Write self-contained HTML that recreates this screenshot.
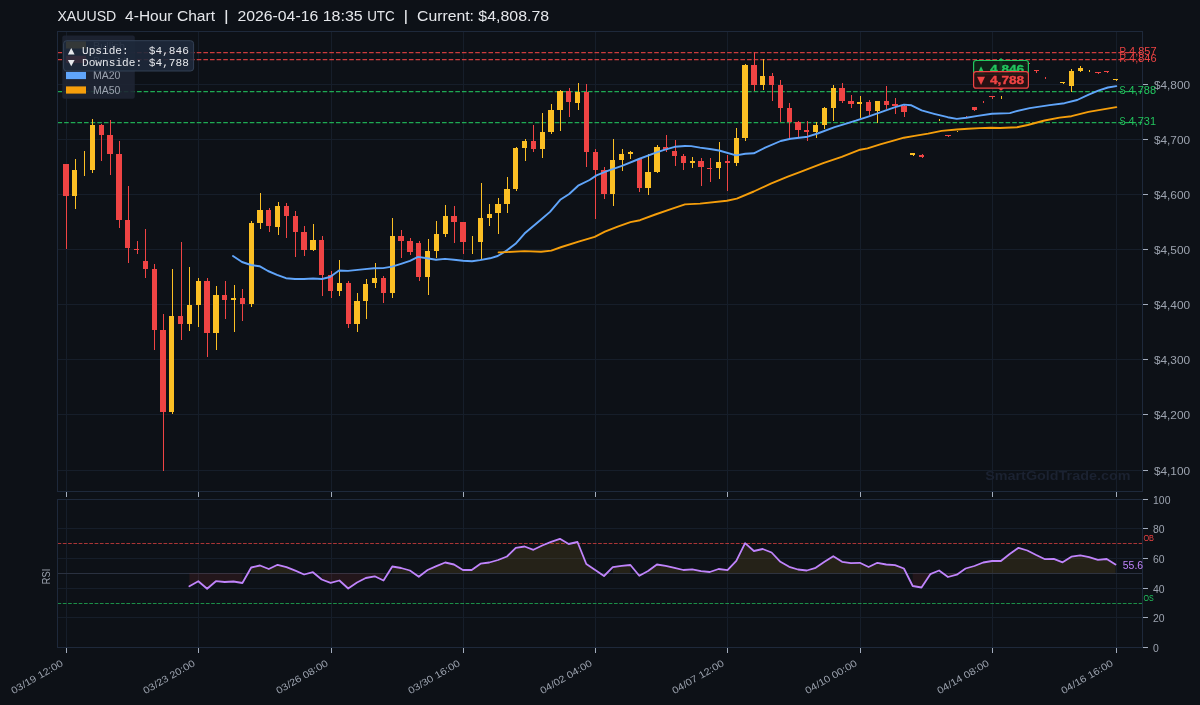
<!DOCTYPE html><html><head><meta charset="utf-8"><style>html,body{margin:0;padding:0;background:#0d1117;overflow:hidden}svg{display:block;will-change:transform}text{font-family:"Liberation Sans", sans-serif;white-space:pre;}.m{font-family:'Liberation Mono', monospace;}</style></head><body>
<svg width="1200" height="705" viewBox="0 0 1200 705">
<rect x="0" y="0" width="1200" height="705" fill="#0d1117"/>
<text x="57.40" y="21.00" style="font-size:14.73px" fill="#e5e7eb" textLength="58.91" lengthAdjust="spacingAndGlyphs" >XAUUSD</text>
<text x="125.14" y="21.00" style="font-size:14.73px" fill="#e5e7eb" textLength="47.34" lengthAdjust="spacingAndGlyphs" >4-Hour</text>
<text x="176.90" y="21.00" style="font-size:14.73px" fill="#e5e7eb" textLength="38.20" lengthAdjust="spacingAndGlyphs" >Chart</text>
<text x="223.94" y="21.00" style="font-size:14.73px" fill="#e5e7eb" textLength="4.68" lengthAdjust="spacingAndGlyphs" >|</text>
<text x="237.46" y="21.00" style="font-size:14.73px" fill="#e5e7eb" textLength="80.78" lengthAdjust="spacingAndGlyphs" >2026-04-16</text>
<text x="322.66" y="21.00" style="font-size:14.73px" fill="#e5e7eb" textLength="40.06" lengthAdjust="spacingAndGlyphs" >18:35</text>
<text x="367.13" y="21.00" style="font-size:14.73px" fill="#e5e7eb" textLength="27.56" lengthAdjust="spacingAndGlyphs" >UTC</text>
<text x="403.52" y="21.00" style="font-size:14.73px" fill="#e5e7eb" textLength="4.68" lengthAdjust="spacingAndGlyphs" >|</text>
<text x="417.04" y="21.00" style="font-size:14.73px" fill="#e5e7eb" textLength="56.89" lengthAdjust="spacingAndGlyphs" >Current:</text>
<text x="478.35" y="21.00" style="font-size:14.73px" fill="#e5e7eb" textLength="70.74" lengthAdjust="spacingAndGlyphs" >$4,808.78</text>
<g stroke="#161e2a" stroke-width="1">
<line x1="57.5" y1="84.5" x2="1142.5" y2="84.5"/>
<line x1="57.5" y1="139.5" x2="1142.5" y2="139.5"/>
<line x1="57.5" y1="194.5" x2="1142.5" y2="194.5"/>
<line x1="57.5" y1="249.5" x2="1142.5" y2="249.5"/>
<line x1="57.5" y1="304.5" x2="1142.5" y2="304.5"/>
<line x1="57.5" y1="359.5" x2="1142.5" y2="359.5"/>
<line x1="57.5" y1="414.5" x2="1142.5" y2="414.5"/>
<line x1="57.5" y1="470.5" x2="1142.5" y2="470.5"/>
<line x1="66.5" y1="31.5" x2="66.5" y2="491.5"/>
<line x1="66.5" y1="499.5" x2="66.5" y2="647.5"/>
<line x1="198.5" y1="31.5" x2="198.5" y2="491.5"/>
<line x1="198.5" y1="499.5" x2="198.5" y2="647.5"/>
<line x1="331.5" y1="31.5" x2="331.5" y2="491.5"/>
<line x1="331.5" y1="499.5" x2="331.5" y2="647.5"/>
<line x1="463.5" y1="31.5" x2="463.5" y2="491.5"/>
<line x1="463.5" y1="499.5" x2="463.5" y2="647.5"/>
<line x1="595.5" y1="31.5" x2="595.5" y2="491.5"/>
<line x1="595.5" y1="499.5" x2="595.5" y2="647.5"/>
<line x1="727.5" y1="31.5" x2="727.5" y2="491.5"/>
<line x1="727.5" y1="499.5" x2="727.5" y2="647.5"/>
<line x1="860.5" y1="31.5" x2="860.5" y2="491.5"/>
<line x1="860.5" y1="499.5" x2="860.5" y2="647.5"/>
<line x1="992.5" y1="31.5" x2="992.5" y2="491.5"/>
<line x1="992.5" y1="499.5" x2="992.5" y2="647.5"/>
<line x1="1116.5" y1="31.5" x2="1116.5" y2="491.5"/>
<line x1="1116.5" y1="499.5" x2="1116.5" y2="647.5"/>
<line x1="57.5" y1="617.5" x2="1142.5" y2="617.5"/>
<line x1="57.5" y1="588.5" x2="1142.5" y2="588.5"/>
<line x1="57.5" y1="558.5" x2="1142.5" y2="558.5"/>
<line x1="57.5" y1="528.5" x2="1142.5" y2="528.5"/>
</g>
<text x="985.20" y="479.70" style="font-weight:bold;font-size:13.04px" fill="#1b2231" textLength="145.27" lengthAdjust="spacingAndGlyphs" >SmartGoldTrade.com</text>
<line x1="57.5" y1="52.5" x2="1142.5" y2="52.5" stroke="#ef4444" stroke-opacity="0.85" stroke-width="1.25" stroke-dasharray="4.6 2.03"/>
<line x1="57.5" y1="59.5" x2="1142.5" y2="59.5" stroke="#ef4444" stroke-opacity="0.85" stroke-width="1.25" stroke-dasharray="4.6 2.03"/>
<line x1="57.5" y1="91.5" x2="1142.5" y2="91.5" stroke="#22c55e" stroke-opacity="0.85" stroke-width="1.25" stroke-dasharray="4.6 2.03"/>
<line x1="57.5" y1="122.5" x2="1142.5" y2="122.5" stroke="#22c55e" stroke-opacity="0.85" stroke-width="1.25" stroke-dasharray="4.6 2.03"/>
<g shape-rendering="crispEdges">
<rect x="66" y="163.6" width="1" height="85.5" fill="#ef4444"/>
<rect x="75" y="158.5" width="1" height="50.6" fill="#fbbf24"/>
<rect x="84" y="151.1" width="1" height="25.0" fill="#fbbf24"/>
<rect x="92" y="118.9" width="1" height="54.1" fill="#fbbf24"/>
<rect x="101" y="124.0" width="1" height="37.0" fill="#ef4444"/>
<rect x="110" y="119.7" width="1" height="55.4" fill="#ef4444"/>
<rect x="119" y="140.6" width="1" height="87.4" fill="#ef4444"/>
<rect x="128" y="185.8" width="1" height="77.4" fill="#ef4444"/>
<rect x="137" y="240.7" width="1" height="13.0" fill="#ef4444"/>
<rect x="145" y="228.7" width="1" height="49.3" fill="#ef4444"/>
<rect x="154" y="264.0" width="1" height="86.0" fill="#ef4444"/>
<rect x="163" y="313.9" width="1" height="157.0" fill="#ef4444"/>
<rect x="172" y="269.1" width="1" height="144.8" fill="#fbbf24"/>
<rect x="181" y="241.9" width="1" height="98.0" fill="#ef4444"/>
<rect x="189" y="266.9" width="1" height="63.9" fill="#fbbf24"/>
<rect x="198" y="278.2" width="1" height="48.8" fill="#fbbf24"/>
<rect x="207" y="278.0" width="1" height="78.7" fill="#ef4444"/>
<rect x="216" y="285.8" width="1" height="64.2" fill="#fbbf24"/>
<rect x="225" y="280.7" width="1" height="38.2" fill="#ef4444"/>
<rect x="234" y="284.8" width="1" height="47.3" fill="#fbbf24"/>
<rect x="242" y="289.0" width="1" height="31.9" fill="#ef4444"/>
<rect x="251" y="220.8" width="1" height="85.8" fill="#fbbf24"/>
<rect x="260" y="193.1" width="1" height="35.9" fill="#fbbf24"/>
<rect x="269" y="207.6" width="1" height="24.2" fill="#ef4444"/>
<rect x="278" y="201.9" width="1" height="33.0" fill="#fbbf24"/>
<rect x="286" y="203.0" width="1" height="34.8" fill="#ef4444"/>
<rect x="295" y="210.9" width="1" height="46.0" fill="#ef4444"/>
<rect x="304" y="225.7" width="1" height="30.3" fill="#ef4444"/>
<rect x="313" y="224.1" width="1" height="26.9" fill="#fbbf24"/>
<rect x="322" y="236.2" width="1" height="59.8" fill="#ef4444"/>
<rect x="331" y="270.9" width="1" height="27.0" fill="#ef4444"/>
<rect x="339" y="259.8" width="1" height="35.9" fill="#fbbf24"/>
<rect x="348" y="281.1" width="1" height="46.8" fill="#ef4444"/>
<rect x="357" y="292.8" width="1" height="39.1" fill="#fbbf24"/>
<rect x="366" y="278.9" width="1" height="39.8" fill="#fbbf24"/>
<rect x="375" y="263.0" width="1" height="25.3" fill="#fbbf24"/>
<rect x="383" y="276.2" width="1" height="26.6" fill="#ef4444"/>
<rect x="392" y="217.7" width="1" height="80.2" fill="#fbbf24"/>
<rect x="401" y="229.8" width="1" height="27.9" fill="#ef4444"/>
<rect x="410" y="237.9" width="1" height="17.0" fill="#ef4444"/>
<rect x="419" y="241.0" width="1" height="39.9" fill="#ef4444"/>
<rect x="428" y="238.8" width="1" height="56.2" fill="#fbbf24"/>
<rect x="436" y="221.1" width="1" height="36.7" fill="#fbbf24"/>
<rect x="445" y="204.8" width="1" height="32.3" fill="#fbbf24"/>
<rect x="454" y="206.0" width="1" height="36.7" fill="#ef4444"/>
<rect x="463" y="222.0" width="1" height="31.9" fill="#ef4444"/>
<rect x="472" y="235.8" width="1" height="18.1" fill="#fbbf24"/>
<rect x="481" y="183.0" width="1" height="75.7" fill="#fbbf24"/>
<rect x="489" y="203.9" width="1" height="22.2" fill="#fbbf24"/>
<rect x="498" y="198.0" width="1" height="35.9" fill="#fbbf24"/>
<rect x="507" y="176.8" width="1" height="36.1" fill="#fbbf24"/>
<rect x="516" y="146.9" width="1" height="44.0" fill="#fbbf24"/>
<rect x="525" y="139.2" width="1" height="21.6" fill="#fbbf24"/>
<rect x="533" y="125.1" width="1" height="26.9" fill="#ef4444"/>
<rect x="542" y="112.8" width="1" height="45.3" fill="#fbbf24"/>
<rect x="551" y="104.0" width="1" height="29.9" fill="#fbbf24"/>
<rect x="560" y="90.0" width="1" height="41.1" fill="#fbbf24"/>
<rect x="569" y="88.2" width="1" height="28.6" fill="#ef4444"/>
<rect x="578" y="83.1" width="1" height="26.6" fill="#fbbf24"/>
<rect x="586" y="84.2" width="1" height="82.7" fill="#ef4444"/>
<rect x="595" y="149.3" width="1" height="70.1" fill="#ef4444"/>
<rect x="604" y="167.2" width="1" height="31.5" fill="#ef4444"/>
<rect x="613" y="139.1" width="1" height="66.4" fill="#fbbf24"/>
<rect x="622" y="148.9" width="1" height="21.9" fill="#fbbf24"/>
<rect x="630" y="150.9" width="1" height="7.8" fill="#fbbf24"/>
<rect x="639" y="158.7" width="1" height="33.0" fill="#ef4444"/>
<rect x="648" y="153.8" width="1" height="41.1" fill="#fbbf24"/>
<rect x="657" y="144.9" width="1" height="28.0" fill="#fbbf24"/>
<rect x="666" y="135.1" width="1" height="16.6" fill="#ef4444"/>
<rect x="675" y="140.0" width="1" height="25.9" fill="#ef4444"/>
<rect x="683" y="153.8" width="1" height="16.1" fill="#ef4444"/>
<rect x="692" y="157.1" width="1" height="10.6" fill="#fbbf24"/>
<rect x="701" y="158.2" width="1" height="27.5" fill="#ef4444"/>
<rect x="710" y="158.2" width="1" height="23.6" fill="#ef4444"/>
<rect x="719" y="141.7" width="1" height="37.0" fill="#fbbf24"/>
<rect x="727" y="154.9" width="1" height="35.7" fill="#ef4444"/>
<rect x="736" y="128.1" width="1" height="37.4" fill="#fbbf24"/>
<rect x="745" y="64.3" width="1" height="76.3" fill="#fbbf24"/>
<rect x="754" y="52.3" width="1" height="38.9" fill="#ef4444"/>
<rect x="763" y="59.3" width="1" height="30.8" fill="#fbbf24"/>
<rect x="772" y="72.7" width="1" height="28.1" fill="#ef4444"/>
<rect x="780" y="80.1" width="1" height="42.0" fill="#ef4444"/>
<rect x="789" y="103.2" width="1" height="34.7" fill="#ef4444"/>
<rect x="798" y="121.2" width="1" height="15.6" fill="#ef4444"/>
<rect x="807" y="120.9" width="1" height="19.9" fill="#ef4444"/>
<rect x="816" y="122.3" width="1" height="15.6" fill="#fbbf24"/>
<rect x="824" y="106.7" width="1" height="22.0" fill="#fbbf24"/>
<rect x="833" y="84.8" width="1" height="36.1" fill="#fbbf24"/>
<rect x="842" y="82.9" width="1" height="20.0" fill="#ef4444"/>
<rect x="851" y="95.1" width="1" height="12.8" fill="#ef4444"/>
<rect x="860" y="95.9" width="1" height="22.2" fill="#fbbf24"/>
<rect x="869" y="99.9" width="1" height="15.5" fill="#ef4444"/>
<rect x="877" y="101.0" width="1" height="21.8" fill="#fbbf24"/>
<rect x="886" y="86.0" width="1" height="23.4" fill="#ef4444"/>
<rect x="895" y="97.9" width="1" height="16.2" fill="#ef4444"/>
<rect x="904" y="104.9" width="1" height="12.1" fill="#ef4444"/>
<rect x="913" y="153.3" width="1" height="2.5" fill="#fbbf24"/>
<rect x="922" y="154.2" width="1" height="3.3" fill="#ef4444"/>
<rect x="939" y="118.9" width="1" height="2.0" fill="#fbbf24"/>
<rect x="948" y="135.2" width="1" height="1.6" fill="#ef4444"/>
<rect x="957" y="130.9" width="1" height="1.0" fill="#fbbf24"/>
<rect x="966" y="115.9" width="1" height="1.2" fill="#ef4444"/>
<rect x="974" y="107.1" width="1" height="4.0" fill="#ef4444"/>
<rect x="983" y="101.0" width="1" height="2.0" fill="#ef4444"/>
<rect x="992" y="96.1" width="1" height="3.0" fill="#ef4444"/>
<rect x="1001" y="95.9" width="1" height="3.2" fill="#fbbf24"/>
<rect x="1027" y="62.8" width="1" height="1.7" fill="#ef4444"/>
<rect x="1036" y="69.9" width="1" height="3.0" fill="#ef4444"/>
<rect x="1045" y="77.0" width="1" height="2.0" fill="#ef4444"/>
<rect x="1063" y="82.1" width="1" height="1.9" fill="#fbbf24"/>
<rect x="1071" y="68.9" width="1" height="22.8" fill="#fbbf24"/>
<rect x="1080" y="65.8" width="1" height="6.1" fill="#fbbf24"/>
<rect x="1089" y="69.8" width="1" height="2.3" fill="#fbbf24"/>
<rect x="1098" y="71.9" width="1" height="2.1" fill="#ef4444"/>
<rect x="1107" y="71.0" width="1" height="2.2" fill="#ef4444"/>
<rect x="1116" y="78.9" width="1" height="2.1" fill="#fbbf24"/>
</g><g shape-rendering="crispEdges">
<rect x="63" y="164" width="6" height="32" fill="#ef4444"/>
<rect x="72" y="170" width="5" height="26" fill="#fbbf24"/>
<rect x="90" y="125" width="5" height="45" fill="#fbbf24"/>
<rect x="99" y="125" width="5" height="10" fill="#ef4444"/>
<rect x="107" y="135" width="6" height="19" fill="#ef4444"/>
<rect x="116" y="154" width="6" height="66" fill="#ef4444"/>
<rect x="125" y="220" width="5" height="28" fill="#ef4444"/>
<rect x="134" y="249" width="5" height="1" fill="#ef4444"/>
<rect x="143" y="261" width="5" height="8" fill="#ef4444"/>
<rect x="152" y="269" width="5" height="61" fill="#ef4444"/>
<rect x="160" y="330" width="6" height="82" fill="#ef4444"/>
<rect x="169" y="316" width="5" height="96" fill="#fbbf24"/>
<rect x="178" y="316" width="5" height="8" fill="#ef4444"/>
<rect x="187" y="305" width="5" height="19" fill="#fbbf24"/>
<rect x="196" y="281" width="5" height="24" fill="#fbbf24"/>
<rect x="204" y="281" width="6" height="52" fill="#ef4444"/>
<rect x="213" y="295" width="6" height="38" fill="#fbbf24"/>
<rect x="222" y="295" width="5" height="5" fill="#ef4444"/>
<rect x="231" y="298" width="5" height="2" fill="#fbbf24"/>
<rect x="240" y="298" width="5" height="6" fill="#ef4444"/>
<rect x="249" y="223" width="5" height="81" fill="#fbbf24"/>
<rect x="257" y="210" width="6" height="13" fill="#fbbf24"/>
<rect x="266" y="210" width="5" height="16" fill="#ef4444"/>
<rect x="275" y="206" width="5" height="21" fill="#fbbf24"/>
<rect x="284" y="206" width="5" height="10" fill="#ef4444"/>
<rect x="293" y="216" width="5" height="16" fill="#ef4444"/>
<rect x="301" y="232" width="6" height="18" fill="#ef4444"/>
<rect x="310" y="240" width="6" height="10" fill="#fbbf24"/>
<rect x="319" y="240" width="5" height="35" fill="#ef4444"/>
<rect x="328" y="275" width="5" height="16" fill="#ef4444"/>
<rect x="337" y="283" width="5" height="8" fill="#fbbf24"/>
<rect x="346" y="283" width="5" height="41" fill="#ef4444"/>
<rect x="354" y="301" width="6" height="23" fill="#fbbf24"/>
<rect x="363" y="284" width="5" height="17" fill="#fbbf24"/>
<rect x="372" y="278" width="5" height="5" fill="#fbbf24"/>
<rect x="381" y="278" width="5" height="15" fill="#ef4444"/>
<rect x="390" y="236" width="5" height="57" fill="#fbbf24"/>
<rect x="398" y="236" width="6" height="5" fill="#ef4444"/>
<rect x="407" y="241" width="6" height="11" fill="#ef4444"/>
<rect x="416" y="243" width="5" height="34" fill="#ef4444"/>
<rect x="425" y="251" width="5" height="26" fill="#fbbf24"/>
<rect x="434" y="234" width="5" height="17" fill="#fbbf24"/>
<rect x="443" y="216" width="5" height="18" fill="#fbbf24"/>
<rect x="451" y="216" width="6" height="6" fill="#ef4444"/>
<rect x="460" y="222" width="6" height="20" fill="#ef4444"/>
<rect x="478" y="218" width="5" height="24" fill="#fbbf24"/>
<rect x="487" y="214" width="5" height="4" fill="#fbbf24"/>
<rect x="495" y="204" width="6" height="9" fill="#fbbf24"/>
<rect x="504" y="189" width="6" height="15" fill="#fbbf24"/>
<rect x="513" y="148" width="5" height="41" fill="#fbbf24"/>
<rect x="522" y="141" width="5" height="7" fill="#fbbf24"/>
<rect x="531" y="141" width="5" height="8" fill="#ef4444"/>
<rect x="540" y="132" width="5" height="17" fill="#fbbf24"/>
<rect x="548" y="110" width="6" height="22" fill="#fbbf24"/>
<rect x="557" y="91" width="6" height="19" fill="#fbbf24"/>
<rect x="566" y="91" width="5" height="11" fill="#ef4444"/>
<rect x="575" y="92" width="5" height="11" fill="#fbbf24"/>
<rect x="584" y="92" width="5" height="60" fill="#ef4444"/>
<rect x="593" y="152" width="5" height="18" fill="#ef4444"/>
<rect x="601" y="170" width="6" height="24" fill="#ef4444"/>
<rect x="610" y="160" width="5" height="34" fill="#fbbf24"/>
<rect x="619" y="154" width="5" height="6" fill="#fbbf24"/>
<rect x="628" y="152" width="5" height="2" fill="#fbbf24"/>
<rect x="637" y="159" width="5" height="29" fill="#ef4444"/>
<rect x="645" y="172" width="6" height="16" fill="#fbbf24"/>
<rect x="654" y="147" width="6" height="25" fill="#fbbf24"/>
<rect x="663" y="147" width="5" height="3" fill="#ef4444"/>
<rect x="672" y="151" width="5" height="5" fill="#ef4444"/>
<rect x="681" y="156" width="5" height="7" fill="#ef4444"/>
<rect x="690" y="161" width="5" height="2" fill="#fbbf24"/>
<rect x="698" y="161" width="6" height="6" fill="#ef4444"/>
<rect x="707" y="168" width="5" height="1" fill="#ef4444"/>
<rect x="716" y="162" width="5" height="6" fill="#fbbf24"/>
<rect x="725" y="161" width="5" height="2" fill="#ef4444"/>
<rect x="734" y="138" width="5" height="25" fill="#fbbf24"/>
<rect x="742" y="65" width="6" height="73" fill="#fbbf24"/>
<rect x="751" y="65" width="6" height="20" fill="#ef4444"/>
<rect x="760" y="76" width="5" height="9" fill="#fbbf24"/>
<rect x="769" y="76" width="5" height="9" fill="#ef4444"/>
<rect x="778" y="85" width="5" height="23" fill="#ef4444"/>
<rect x="787" y="108" width="5" height="14" fill="#ef4444"/>
<rect x="795" y="122" width="6" height="8" fill="#ef4444"/>
<rect x="804" y="130" width="5" height="2" fill="#ef4444"/>
<rect x="813" y="125" width="5" height="7" fill="#fbbf24"/>
<rect x="822" y="108" width="5" height="17" fill="#fbbf24"/>
<rect x="831" y="88" width="5" height="20" fill="#fbbf24"/>
<rect x="839" y="88" width="6" height="13" fill="#ef4444"/>
<rect x="848" y="101" width="6" height="3" fill="#ef4444"/>
<rect x="857" y="102" width="5" height="2" fill="#fbbf24"/>
<rect x="866" y="102" width="5" height="9" fill="#ef4444"/>
<rect x="875" y="101" width="5" height="10" fill="#fbbf24"/>
<rect x="884" y="101" width="5" height="4" fill="#ef4444"/>
<rect x="892" y="104" width="6" height="2" fill="#ef4444"/>
<rect x="901" y="106" width="6" height="6" fill="#ef4444"/>
<rect x="910" y="153" width="5" height="2" fill="#fbbf24"/>
<rect x="919" y="155" width="5" height="2" fill="#ef4444"/>
<rect x="945" y="135" width="6" height="1" fill="#ef4444"/>
<rect x="972" y="107" width="5" height="3" fill="#ef4444"/>
<rect x="989" y="96" width="6" height="1" fill="#ef4444"/>
<rect x="1025" y="63" width="5" height="1" fill="#ef4444"/>
<rect x="1034" y="70" width="5" height="1" fill="#ef4444"/>
<rect x="1060" y="82" width="5" height="1" fill="#fbbf24"/>
<rect x="1069" y="71" width="5" height="15" fill="#fbbf24"/>
<rect x="1078" y="68" width="5" height="3" fill="#fbbf24"/>
<rect x="1095" y="72" width="6" height="1" fill="#ef4444"/>
<rect x="1104" y="71" width="5" height="1" fill="#ef4444"/>
<rect x="1113" y="79" width="5" height="1" fill="#fbbf24"/>
</g>
<polyline points="233.0,256.0 242.0,262.0 251.0,265.0 259.5,266.2 268.0,271.0 277.0,274.8 286.0,278.2 295.0,279.0 304.0,279.0 313.0,278.5 322.0,279.0 330.0,277.0 339.0,270.5 348.0,270.9 365.0,269.1 374.0,268.3 383.0,268.1 392.0,266.6 401.0,263.8 410.0,260.9 418.0,256.9 427.0,258.3 436.0,259.8 445.0,258.9 454.0,259.8 463.0,260.8 472.0,261.3 480.0,260.1 490.0,258.3 497.7,256.0 506.6,250.6 515.5,243.8 524.5,233.6 541.1,219.6 550.0,211.9 560.2,199.8 569.2,194.0 578.1,185.7 589.6,180.0 596.5,175.4 606.3,171.3 622.6,165.6 638.9,159.0 655.3,152.8 663.4,150.1 674.8,146.8 685.0,146.0 691.2,146.1 700.0,147.6 709.9,149.0 719.1,150.5 736.1,155.4 745.3,153.7 753.8,153.3 765.2,147.6 780.7,141.0 790.7,138.8 807.7,136.7 817.6,133.5 834.6,127.1 845.4,123.8 855.8,120.7 867.5,116.8 881.0,112.1 894.4,107.3 903.9,104.6 911.4,105.3 921.6,110.4 934.1,113.8 947.7,117.2 956.8,118.9 966.4,117.8 977.7,115.9 991.9,113.7 1009.9,113.1 1014.8,111.6 1029.7,108.1 1049.6,105.1 1064.5,103.2 1077.2,100.0 1088.7,94.6 1098.3,90.7 1107.9,87.5 1116.3,86.1" fill="none" stroke="#60a5fa" stroke-width="1.9" stroke-linejoin="round" stroke-linecap="round"/>
<polyline points="498.6,252.4 506.6,252.1 524.5,251.1 541.1,251.7 551.3,250.6 561.5,247.0 579.4,241.3 594.7,236.8 604.9,231.7 617.7,226.6 630.4,222.1 640.0,220.2 655.3,214.5 671.6,208.8 685.0,204.4 700.0,203.6 726.9,200.7 736.8,198.6 753.8,191.5 770.8,183.7 787.8,176.7 799.2,172.4 823.2,163.2 841.7,156.8 860.1,149.7 867.5,148.4 881.0,144.1 894.4,140.4 903.9,137.7 914.6,135.9 928.1,133.6 941.6,130.9 956.8,129.5 968.1,128.8 979.5,128.1 990.8,127.7 1000.0,128.0 1017.0,127.2 1027.7,125.0 1044.6,120.5 1059.5,117.6 1071.5,116.2 1088.5,111.9 1116.3,107.1" fill="none" stroke="#f59e0b" stroke-width="1.9" stroke-linejoin="round" stroke-linecap="round"/>
<rect x="57.5" y="31.5" width="1085.0" height="460.0" fill="none" stroke="#1e293b" stroke-width="1"/>
<text x="1119.40" y="55.10" style="font-size:10.18px" fill="#ef4444" textLength="6.67" lengthAdjust="spacingAndGlyphs" >R</text>
<text x="1129.12" y="55.10" style="font-size:10.18px" fill="#ef4444" textLength="27.48" lengthAdjust="spacingAndGlyphs" >4,857</text>
<text x="1119.40" y="62.10" style="font-size:10.18px" fill="#ef4444" textLength="6.67" lengthAdjust="spacingAndGlyphs" >R</text>
<text x="1129.12" y="62.10" style="font-size:10.18px" fill="#ef4444" textLength="27.48" lengthAdjust="spacingAndGlyphs" >4,846</text>
<text x="1119.40" y="93.80" style="font-size:10.18px" fill="#22c55e" textLength="6.09" lengthAdjust="spacingAndGlyphs" >S</text>
<text x="1128.55" y="93.80" style="font-size:10.18px" fill="#22c55e" textLength="27.48" lengthAdjust="spacingAndGlyphs" >4,788</text>
<text x="1119.40" y="124.80" style="font-size:10.18px" fill="#22c55e" textLength="6.09" lengthAdjust="spacingAndGlyphs" >S</text>
<text x="1128.55" y="124.80" style="font-size:10.18px" fill="#22c55e" textLength="27.48" lengthAdjust="spacingAndGlyphs" >4,731</text>
<g fill="#9ca3af" font-size="10.4">
<line x1="1143.0" y1="84.5" x2="1148.0" y2="84.5" stroke="#a3adbd" stroke-width="1"/>
<text x="1153.9" y="88.9" textLength="36.2" lengthAdjust="spacingAndGlyphs">$4,800</text>
<line x1="1143.0" y1="139.5" x2="1148.0" y2="139.5" stroke="#a3adbd" stroke-width="1"/>
<text x="1153.9" y="143.9" textLength="36.2" lengthAdjust="spacingAndGlyphs">$4,700</text>
<line x1="1143.0" y1="194.5" x2="1148.0" y2="194.5" stroke="#a3adbd" stroke-width="1"/>
<text x="1153.9" y="198.9" textLength="36.2" lengthAdjust="spacingAndGlyphs">$4,600</text>
<line x1="1143.0" y1="249.5" x2="1148.0" y2="249.5" stroke="#a3adbd" stroke-width="1"/>
<text x="1153.9" y="253.9" textLength="36.2" lengthAdjust="spacingAndGlyphs">$4,500</text>
<line x1="1143.0" y1="304.5" x2="1148.0" y2="304.5" stroke="#a3adbd" stroke-width="1"/>
<text x="1153.9" y="308.9" textLength="36.2" lengthAdjust="spacingAndGlyphs">$4,400</text>
<line x1="1143.0" y1="359.5" x2="1148.0" y2="359.5" stroke="#a3adbd" stroke-width="1"/>
<text x="1153.9" y="363.9" textLength="36.2" lengthAdjust="spacingAndGlyphs">$4,300</text>
<line x1="1143.0" y1="414.5" x2="1148.0" y2="414.5" stroke="#a3adbd" stroke-width="1"/>
<text x="1153.9" y="418.9" textLength="36.2" lengthAdjust="spacingAndGlyphs">$4,200</text>
<line x1="1143.0" y1="470.5" x2="1148.0" y2="470.5" stroke="#a3adbd" stroke-width="1"/>
<text x="1153.9" y="474.9" textLength="36.2" lengthAdjust="spacingAndGlyphs">$4,100</text>
</g>
<line x1="66.5" y1="492.0" x2="66.5" y2="497.0" stroke="#a3adbd" stroke-width="1"/>
<line x1="66.5" y1="648.0" x2="66.5" y2="653.0" stroke="#a3adbd" stroke-width="1"/>
<line x1="198.5" y1="492.0" x2="198.5" y2="497.0" stroke="#a3adbd" stroke-width="1"/>
<line x1="198.5" y1="648.0" x2="198.5" y2="653.0" stroke="#a3adbd" stroke-width="1"/>
<line x1="331.5" y1="492.0" x2="331.5" y2="497.0" stroke="#a3adbd" stroke-width="1"/>
<line x1="331.5" y1="648.0" x2="331.5" y2="653.0" stroke="#a3adbd" stroke-width="1"/>
<line x1="463.5" y1="492.0" x2="463.5" y2="497.0" stroke="#a3adbd" stroke-width="1"/>
<line x1="463.5" y1="648.0" x2="463.5" y2="653.0" stroke="#a3adbd" stroke-width="1"/>
<line x1="595.5" y1="492.0" x2="595.5" y2="497.0" stroke="#a3adbd" stroke-width="1"/>
<line x1="595.5" y1="648.0" x2="595.5" y2="653.0" stroke="#a3adbd" stroke-width="1"/>
<line x1="727.5" y1="492.0" x2="727.5" y2="497.0" stroke="#a3adbd" stroke-width="1"/>
<line x1="727.5" y1="648.0" x2="727.5" y2="653.0" stroke="#a3adbd" stroke-width="1"/>
<line x1="860.5" y1="492.0" x2="860.5" y2="497.0" stroke="#a3adbd" stroke-width="1"/>
<line x1="860.5" y1="648.0" x2="860.5" y2="653.0" stroke="#a3adbd" stroke-width="1"/>
<line x1="992.5" y1="492.0" x2="992.5" y2="497.0" stroke="#a3adbd" stroke-width="1"/>
<line x1="992.5" y1="648.0" x2="992.5" y2="653.0" stroke="#a3adbd" stroke-width="1"/>
<line x1="1116.5" y1="492.0" x2="1116.5" y2="497.0" stroke="#a3adbd" stroke-width="1"/>
<line x1="1116.5" y1="648.0" x2="1116.5" y2="653.0" stroke="#a3adbd" stroke-width="1"/>
<rect x="62.3" y="35.6" width="72.5" height="63.2" rx="2" fill="#1e2533" fill-opacity="0.9"/>
<rect x="66" y="41.3" width="20" height="7.2" fill="#fbbf24"/>
<rect x="66" y="55.8" width="20" height="7.2" fill="#ef4444"/>
<rect x="66" y="71.9" width="20" height="7.2" fill="#60a5fa"/>
<rect x="66" y="86.4" width="20" height="7.2" fill="#f59e0b"/>
<text x="93.00" y="50.00" style="font-size:10.30px" fill="#9ca3af" textLength="32.15" lengthAdjust="spacingAndGlyphs" >Bullish</text>
<text x="93.00" y="64.50" style="font-size:10.30px" fill="#9ca3af" textLength="36.53" lengthAdjust="spacingAndGlyphs" >Bearish</text>
<text x="93.00" y="79.00" style="font-size:10.30px" fill="#9ca3af" textLength="27.40" lengthAdjust="spacingAndGlyphs" >MA20</text>
<text x="93.00" y="93.60" style="font-size:10.30px" fill="#9ca3af" textLength="27.40" lengthAdjust="spacingAndGlyphs" >MA50</text>
<rect x="63.6" y="40.7" width="130" height="30.3" rx="3" fill="#1e293b" fill-opacity="0.9" stroke="#334155" stroke-width="1"/>
<text x="81.97" y="54.00" style="font-family:'Liberation Mono',monospace;font-size:11.77px" fill="#e5e7eb" textLength="46.78" lengthAdjust="spacingAndGlyphs" >Upside:</text>
<text x="148.79" y="54.00" style="font-family:'Liberation Mono',monospace;font-size:11.77px" fill="#e5e7eb" textLength="40.10" lengthAdjust="spacingAndGlyphs" >$4,846</text>
<text x="81.97" y="66.00" style="font-family:'Liberation Mono',monospace;font-size:11.77px" fill="#e5e7eb" textLength="60.14" lengthAdjust="spacingAndGlyphs" >Downside:</text>
<text x="148.79" y="66.00" style="font-family:'Liberation Mono',monospace;font-size:11.77px" fill="#e5e7eb" textLength="40.10" lengthAdjust="spacingAndGlyphs" >$4,788</text>
<path d="M71.25 48 L74.6 54.6 L67.9 54.6 Z" fill="#e5e7eb"/>
<path d="M67.9 60 L74.6 60 L71.25 66.3 Z" fill="#e5e7eb"/>
<path d="M1001 58 L998 61 L1004 61 Z" fill="#22c55e"/>
<rect x="973.6" y="60.5" width="54.8" height="14" rx="2.5" fill="#0f2418" fill-opacity="0.9" stroke="#22c55e" stroke-width="1.2"/><line x1="1001" y1="61" x2="1001" y2="72" stroke="#22c55e" stroke-opacity="0.12" stroke-width="3"/>
<path d="M977.1 74.5 L985 74.5 L981.05 66.2 Z" fill="#22c55e"/>
<text x="990" y="73.4" font-size="11.3" font-weight="bold" fill="#22c55e" stroke="#22c55e" stroke-width="0.35" textLength="34.2" lengthAdjust="spacingAndGlyphs">4,846</text>
<rect x="973.6" y="71.6" width="54.8" height="16.6" rx="2.5" fill="#2a1113" fill-opacity="0.92" stroke="#ef4444" stroke-width="1.2"/>
<path d="M977.1 76.7 L985 76.7 L981.05 85 Z" fill="#ef4444"/>
<text x="990" y="84.2" font-size="11.3" font-weight="bold" fill="#ef4444" stroke="#ef4444" stroke-width="0.35" textLength="34.2" lengthAdjust="spacingAndGlyphs">4,788</text>
<path d="M1001 90.8 L998 88.2 L1004 88.2 Z" fill="#ef4444"/>
<line x1="57.5" y1="543.5" x2="1142.5" y2="543.5" stroke="#ef4444" stroke-opacity="0.7" stroke-width="1" stroke-dasharray="3.7 1.6"/>
<line x1="57.5" y1="603.5" x2="1142.5" y2="603.5" stroke="#22c55e" stroke-opacity="0.7" stroke-width="1" stroke-dasharray="3.7 1.6"/>
<line x1="57.5" y1="573.5" x2="1142.5" y2="573.5" stroke="#2a3140" stroke-width="1"/>
<polygon points="251.2,567.5 260.0,565.5 268.8,569.0 277.6,564.8 286.5,567.2 295.3,570.6 295.3,573.2 286.5,573.2 277.6,573.2 268.8,573.2 260.0,573.2 251.2,573.2" fill="#fbbf24" fill-opacity="0.1"/>
<polygon points="392.3,566.5 401.1,568.0 409.9,570.5 409.9,573.2 401.1,573.2 392.3,573.2" fill="#fbbf24" fill-opacity="0.1"/>
<polygon points="427.6,570.0 436.4,566.2 445.2,562.5 454.0,564.5 462.9,570.0 471.7,570.0 480.5,563.7 489.3,562.5 498.1,560.0 507.0,556.5 515.8,547.8 524.6,546.5 533.4,549.8 542.2,545.5 551.1,541.8 559.9,538.8 568.7,544.0 577.5,542.0 586.3,564.0 595.2,570.0 595.2,573.2 586.3,573.2 577.5,573.2 568.7,573.2 559.9,573.2 551.1,573.2 542.2,573.2 533.4,573.2 524.6,573.2 515.8,573.2 507.0,573.2 498.1,573.2 489.3,573.2 480.5,573.2 471.7,573.2 462.9,573.2 454.0,573.2 445.2,573.2 436.4,573.2 427.6,573.2" fill="#fbbf24" fill-opacity="0.1"/>
<polygon points="612.8,567.2 621.6,565.9 630.4,565.0 630.4,573.2 621.6,573.2 612.8,573.2" fill="#fbbf24" fill-opacity="0.1"/>
<polygon points="648.1,571.0 656.9,564.5 665.7,565.8 674.5,567.8 683.4,570.0 692.2,569.3 701.0,571.2 709.8,572.0 718.6,569.0 727.5,570.2 736.3,560.8 745.1,543.2 753.9,551.0 762.7,549.0 771.6,552.5 780.4,561.8 789.2,566.8 798.0,569.5 806.8,570.5 815.7,567.8 824.5,561.8 833.3,556.2 842.1,561.8 850.9,563.2 859.8,562.8 868.6,567.0 877.4,562.8 886.2,564.5 895.0,565.2 903.9,568.5 903.9,573.2 895.0,573.2 886.2,573.2 877.4,573.2 868.6,573.2 859.8,573.2 850.9,573.2 842.1,573.2 833.3,573.2 824.5,573.2 815.7,573.2 806.8,573.2 798.0,573.2 789.2,573.2 780.4,573.2 771.6,573.2 762.7,573.2 753.9,573.2 745.1,573.2 736.3,573.2 727.5,573.2 718.6,573.2 709.8,573.2 701.0,573.2 692.2,573.2 683.4,573.2 674.5,573.2 665.7,573.2 656.9,573.2 648.1,573.2" fill="#fbbf24" fill-opacity="0.1"/>
<polygon points="965.6,568.5 974.4,566.0 983.2,562.5 992.1,561.0 1000.9,561.0 1009.7,554.0 1018.5,547.8 1027.3,550.5 1036.2,555.0 1045.0,559.2 1053.8,558.8 1062.6,562.3 1071.4,556.7 1080.3,555.4 1089.1,557.1 1097.9,559.8 1106.7,559.0 1115.5,564.6 1115.5,573.2 1106.7,573.2 1097.9,573.2 1089.1,573.2 1080.3,573.2 1071.4,573.2 1062.6,573.2 1053.8,573.2 1045.0,573.2 1036.2,573.2 1027.3,573.2 1018.5,573.2 1009.7,573.2 1000.9,573.2 992.1,573.2 983.2,573.2 974.4,573.2 965.6,573.2" fill="#fbbf24" fill-opacity="0.1"/>
<polygon points="189.4,586.2 198.3,581.2 207.1,588.8 215.9,581.2 224.7,582.0 233.5,581.5 242.4,583.0 242.4,573.2 233.5,573.2 224.7,573.2 215.9,573.2 207.1,573.2 198.3,573.2 189.4,573.2" fill="#ef4444" fill-opacity="0.1"/>
<polygon points="321.7,579.5 330.6,582.8 339.4,580.5 348.2,588.5 357.0,582.5 365.8,578.0 374.7,576.3 383.5,580.5 383.5,573.2 374.7,573.2 365.8,573.2 357.0,573.2 348.2,573.2 339.4,573.2 330.6,573.2 321.7,573.2" fill="#ef4444" fill-opacity="0.1"/>
<polygon points="912.7,586.0 921.5,587.5 930.3,574.2 930.3,573.2 921.5,573.2 912.7,573.2" fill="#ef4444" fill-opacity="0.1"/>
<polygon points="948.0,577.0 956.8,574.7 956.8,573.2 948.0,573.2" fill="#ef4444" fill-opacity="0.1"/>
<polyline points="189.4,586.2 198.3,581.2 207.1,588.8 215.9,581.2 224.7,582.0 233.5,581.5 242.4,583.0 251.2,567.5 260.0,565.5 268.8,569.0 277.6,564.8 286.5,567.2 295.3,570.6 304.1,574.5 312.9,572.2 321.7,579.5 330.6,582.8 339.4,580.5 348.2,588.5 357.0,582.5 365.8,578.0 374.7,576.3 383.5,580.5 392.3,566.5 401.1,568.0 409.9,570.5 418.8,576.8 427.6,570.0 436.4,566.2 445.2,562.5 454.0,564.5 462.9,570.0 471.7,570.0 480.5,563.7 489.3,562.5 498.1,560.0 507.0,556.5 515.8,547.8 524.6,546.5 533.4,549.8 542.2,545.5 551.1,541.8 559.9,538.8 568.7,544.0 577.5,542.0 586.3,564.0 595.2,570.0 604.0,576.0 612.8,567.2 621.6,565.9 630.4,565.0 639.3,575.8 648.1,571.0 656.9,564.5 665.7,565.8 674.5,567.8 683.4,570.0 692.2,569.3 701.0,571.2 709.8,572.0 718.6,569.0 727.5,570.2 736.3,560.8 745.1,543.2 753.9,551.0 762.7,549.0 771.6,552.5 780.4,561.8 789.2,566.8 798.0,569.5 806.8,570.5 815.7,567.8 824.5,561.8 833.3,556.2 842.1,561.8 850.9,563.2 859.8,562.8 868.6,567.0 877.4,562.8 886.2,564.5 895.0,565.2 903.9,568.5 912.7,586.0 921.5,587.5 930.3,574.2 939.1,570.5 948.0,577.0 956.8,574.7 965.6,568.5 974.4,566.0 983.2,562.5 992.1,561.0 1000.9,561.0 1009.7,554.0 1018.5,547.8 1027.3,550.5 1036.2,555.0 1045.0,559.2 1053.8,558.8 1062.6,562.3 1071.4,556.7 1080.3,555.4 1089.1,557.1 1097.9,559.8 1106.7,559.0 1115.5,564.6" fill="none" stroke="#c084fc" stroke-width="1.8" stroke-linejoin="round" stroke-linecap="round"/>
<rect x="57.5" y="499.5" width="1085.0" height="148.0" fill="none" stroke="#1e293b" stroke-width="1"/>
<text x="1143.4" y="540.9" font-size="8.8" fill="#ef4444" textLength="10.6" lengthAdjust="spacingAndGlyphs">OB</text>
<text x="1143.4" y="600.7" font-size="8.8" fill="#22c55e" textLength="10.2" lengthAdjust="spacingAndGlyphs">OS</text>
<text x="1122.8" y="569" font-size="10.3" fill="#c084fc" textLength="20.3" lengthAdjust="spacingAndGlyphs">55.6</text>
<g fill="#9ca3af" font-size="10.4">
<line x1="1143.0" y1="647.5" x2="1148.0" y2="647.5" stroke="#a3adbd" stroke-width="1"/>
<text x="1153.1" y="651.9">0</text>
<line x1="1143.0" y1="617.5" x2="1148.0" y2="617.5" stroke="#a3adbd" stroke-width="1"/>
<text x="1153.1" y="621.9">20</text>
<line x1="1143.0" y1="588.5" x2="1148.0" y2="588.5" stroke="#a3adbd" stroke-width="1"/>
<text x="1153.1" y="592.9">40</text>
<line x1="1143.0" y1="558.5" x2="1148.0" y2="558.5" stroke="#a3adbd" stroke-width="1"/>
<text x="1153.1" y="562.9">60</text>
<line x1="1143.0" y1="528.5" x2="1148.0" y2="528.5" stroke="#a3adbd" stroke-width="1"/>
<text x="1153.1" y="532.9">80</text>
<line x1="1143.0" y1="499.5" x2="1148.0" y2="499.5" stroke="#a3adbd" stroke-width="1"/>
<text x="1153.1" y="503.9">100</text>
</g>
<text transform="translate(50.2,584.2) rotate(-90)" font-size="10.4" fill="#9ca3af" textLength="15.4" lengthAdjust="spacingAndGlyphs">RSI</text>
<g fill="#9ca3af" font-size="9.7">
<text transform="translate(63.8,665.2) rotate(-30)" text-anchor="end" textLength="58" lengthAdjust="spacingAndGlyphs">03/19 12:00</text>
<text transform="translate(195.8,665.2) rotate(-30)" text-anchor="end" textLength="58" lengthAdjust="spacingAndGlyphs">03/23 20:00</text>
<text transform="translate(328.8,665.2) rotate(-30)" text-anchor="end" textLength="58" lengthAdjust="spacingAndGlyphs">03/26 08:00</text>
<text transform="translate(460.8,665.2) rotate(-30)" text-anchor="end" textLength="58" lengthAdjust="spacingAndGlyphs">03/30 16:00</text>
<text transform="translate(592.8,665.2) rotate(-30)" text-anchor="end" textLength="58" lengthAdjust="spacingAndGlyphs">04/02 04:00</text>
<text transform="translate(724.8,665.2) rotate(-30)" text-anchor="end" textLength="58" lengthAdjust="spacingAndGlyphs">04/07 12:00</text>
<text transform="translate(857.8,665.2) rotate(-30)" text-anchor="end" textLength="58" lengthAdjust="spacingAndGlyphs">04/10 00:00</text>
<text transform="translate(989.8,665.2) rotate(-30)" text-anchor="end" textLength="58" lengthAdjust="spacingAndGlyphs">04/14 08:00</text>
<text transform="translate(1113.8,665.2) rotate(-30)" text-anchor="end" textLength="58" lengthAdjust="spacingAndGlyphs">04/16 16:00</text>
</g>
</svg></body></html>
